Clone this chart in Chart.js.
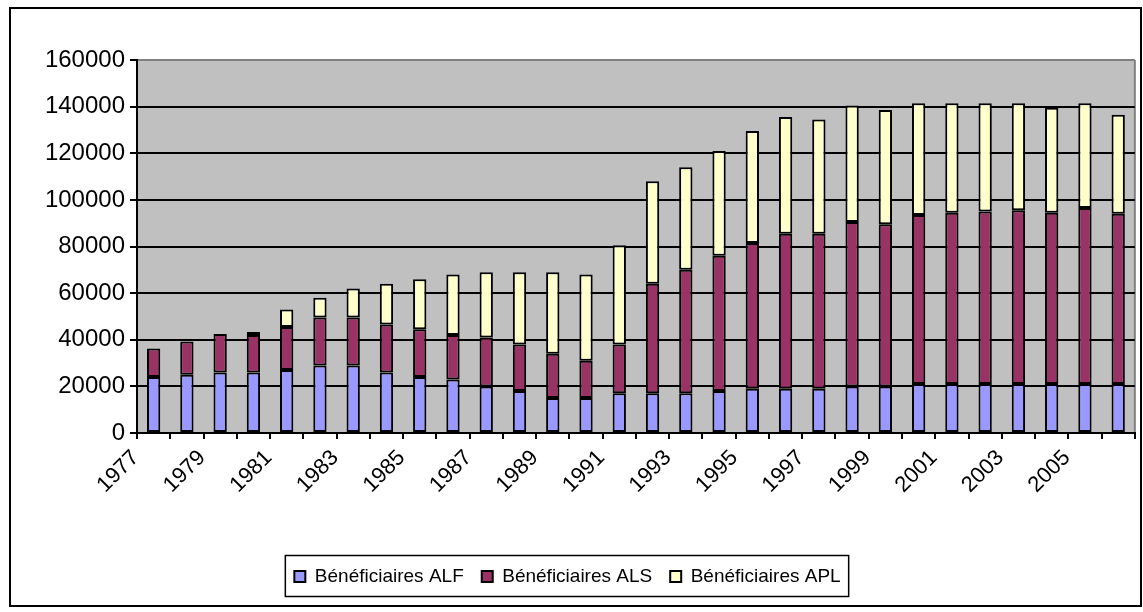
<!DOCTYPE html>
<html>
<head>
<meta charset="utf-8">
<script src="https://cdn.jsdelivr.net/npm/chart.js@4"></script>
<style>
  html, body { margin: 0; padding: 0; background: #fff; }
  #wrap { width: 1143px; height: 612px; }
</style>
</head>
<body>
<div id="wrap"><canvas id="benef" width="1143" height="612"></canvas></div>
<script>
const years = ['1977','1978','1979','1980','1981','1982','1983','1984','1985','1986',
               '1987','1988','1989','1990','1991','1992','1993','1994','1995','1996',
               '1997','1998','1999','2000','2001','2002','2003','2004','2005','2006'];
const alf = [24000,25000,26000,26000,27000,29000,29000,26000,24000,23000,
             20000,18000,15000,15000,17000,17000,17000,18000,19000,19000,
             19000,20000,20000,21000,21000,21000,21000,21000,21000,21000];
const als = [12200,14300,16500,16000,18500,20500,20500,20500,20500,19000,
             21000,20000,19000,16000,21000,47000,53000,58000,62500,66500,
             66500,70500,69500,72500,73500,74000,74500,73500,75500,73000];
const apl = [0,0,0,1300,7500,8500,12500,17500,21500,26000,
             28000,31000,35000,37000,42500,44000,44000,45000,48000,50000,
             49000,50000,49000,48000,47000,46500,46000,45000,45000,42500];
const yTicks = [0,20000,40000,60000,80000,100000,120000,140000,160000];

const fontFam = '"Liberation Sans", Arial, sans-serif';

// fond gris de la zone de tracé + cadre du graphique + cadre de la légende
const frame = {
    id:'frame',
    beforeDraw(chart){
        const c = chart.ctx, a = chart.chartArea;
        c.save();
        c.fillStyle = '#C0C0C0';
        c.fillRect(a.left, a.top, a.right - a.left, a.bottom - a.top);
        c.strokeStyle = '#808080';
        c.lineWidth = 2;
        c.beginPath();
        c.moveTo(a.right, a.top);
        c.lineTo(a.right, a.bottom);
        c.stroke();
        c.restore();
    },
    afterDraw(chart){
        const c = chart.ctx;
        c.save();
        c.strokeStyle = '#000';
        c.lineWidth = 2;
        c.strokeRect(10, 8, 1131, 598);
        const hb = chart.legend.legendHitBoxes;
        if(hb && hb.length){
            const l = Math.min(...hb.map(h => h.left)) - 9;
            const r = Math.max(...hb.map(h => h.left + h.width)) + 8;
            const cy = hb[0].top + hb[0].height / 2;
            c.lineWidth = 1.5;
            c.strokeRect(l, cy - 21, r - l, 41);
        }
        c.restore();
    }
};

const ctx = document.getElementById('benef').getContext('2d');
const benef = new Chart(ctx, {
    type:'bar',
    data:{
        labels:years,
        datasets:[
            {label:'Bénéficiaires ALF', data:alf, backgroundColor:'#9999FF'},
            {label:'Bénéficiaires ALS', data:als, backgroundColor:'#993366'},
            {label:'Bénéficiaires APL', data:apl, backgroundColor:'#FFFFCC'}
        ]
    },
    options:{
        responsive:false,
        animation:false,
        layout:{padding:{left:0, right:8, top:60, bottom:16}},
        datasets:{
            bar:{
                borderColor:'#000',
                borderWidth:2,
                borderSkipped:false,
                categoryPercentage:1,
                barPercentage:0.4
            }
        },
        scales:{
            x:{
                stacked:true,
                afterFit:s => { s.height = 116; },
                grid:{
                    offset:true,
                    drawOnChartArea:false,
                    drawTicks:true,
                    tickLength:6,
                    color:'#000',
                    lineWidth:2
                },
                border:{color:'#000', width:2},
                ticks:{
                    autoSkip:false,
                    minRotation:45,
                    maxRotation:45,
                    labelOffset:-18,
                    padding:6,
                    color:'#000',
                    font:{family:fontFam, size:22},
                    callback:function(v, i){ return i % 2 === 0 ? years[i] : ''; }
                }
            },
            y:{
                stacked:true,
                min:0,
                max:160000,
                afterFit:s => { s.width = 137; },
                afterBuildTicks:s => { s.ticks = yTicks.map(v => ({value:v})); },
                grid:{
                    color:c => c.tick && c.tick.value === 160000 ? '#808080' : '#000',
                    lineWidth:2,
                    tickLength:7,
                    tickColor:'#000'
                },
                border:{color:'#000', width:2},
                ticks:{
                    padding:5,
                    color:'#000',
                    font:{family:fontFam, size:24},
                    callback:v => String(v)
                }
            }
        },
        plugins:{
            tooltip:{enabled:false},
            legend:{
                position:'bottom',
                labels:{
                    color:'#000',
                    font:{family:fontFam, size:19},
                    boxWidth:11,
                    boxHeight:11,
                    padding:18
                }
            }
        }
    },
    plugins:[frame]
});
</script>
</body>
</html>
